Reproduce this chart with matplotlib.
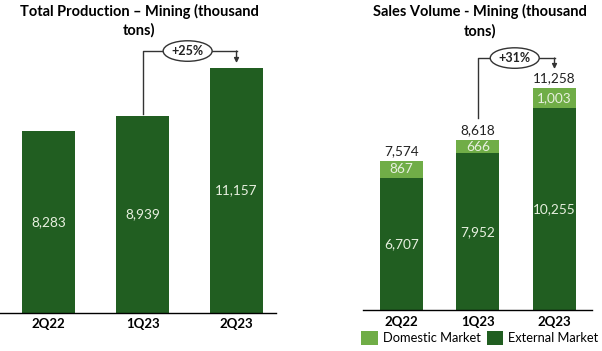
import matplotlib
matplotlib.use("Agg")
import matplotlib.pyplot as plt

plt.rcParams['font.family'] = ['Lato', 'DejaVu Sans']

# ---- data ----
quarters = ["2Q22", "1Q23", "2Q23"]
production = [8283, 8939, 11157]
external = [6707, 7952, 10255]
domestic = [867, 666, 1003]
sales_total = [7574, 8618, 11258]
prod_growth = "+25%"
sales_growth = "+31%"
title_left = "Total Production \u2013 Mining (thousand\ntons)"
title_right = "Sales Volume - Mining (thousand\ntons)"
legend_labels = ["Domestic Market", "External Market"]

DARK = "#215E21"
LIGHT = "#70AD47"
LABEL_C = "#E8F0E0"

W, H = 602, 351
fig = plt.figure(figsize=(W / 100, H / 100), dpi=100)

def ax_rect(x0, x1, ybot, ytop):
    return [x0 / W, (H - ybot) / H, (x1 - x0) / W, (ybot - ytop) / H]

x = list(range(len(quarters)))

# ---- left chart ----
axL = fig.add_axes(ax_rect(0, 276, 312.7, 40))
axL.bar(x, production, width=0.564, color=DARK)
axL.set_xlim(-0.516, 2.42)
axL.set_ylim(0, 272.7 / 0.02196)
for i, v in enumerate(production):
    axL.text(i, v / 2, f"{v:,}", ha="center", va="center", color=LABEL_C, fontsize=9.8)

# ---- right chart ----
axR = fig.add_axes(ax_rect(363, 592, 310, 40))
axR.bar(x, external, width=0.562, color=DARK, label=legend_labels[1])
axR.bar(x, domestic, bottom=external, width=0.562, color=LIGHT, label=legend_labels[0])
axR.set_xlim(-0.503, 2.49)
axR.set_ylim(0, 270 / 0.0197)
for i in x:
    axR.text(i, external[i] / 2, f"{external[i]:,}", ha="center", va="center",
             color=LABEL_C, fontsize=9.8)
    axR.text(i, external[i] + domestic[i] / 2, f"{domestic[i]:,}", ha="center",
             va="center", color=LABEL_C, fontsize=9.8)
    axR.text(i, sales_total[i] + 200, f"{sales_total[i]:,}", ha="center",
             va="bottom", color="#222222", fontsize=9.8)

for ax in (axL, axR):
    for s in ("top", "right", "left"):
        ax.spines[s].set_visible(False)
    ax.spines["bottom"].set_color("black")
    ax.spines["bottom"].set_linewidth(1.0)
    ax.set_yticks([])
    ax.set_xticks(x)
    ax.set_xticklabels(quarters, fontweight="bold", fontsize=9.5)
    ax.tick_params(axis="x", length=0, pad=4)
    ax.patch.set_alpha(0)

# ---- growth annotations ----
def growth(ax, start_y, level, tip_y, label, i0=1, i1=2):
    ax.plot([i0, i0, i1], [start_y, level, level], color="#333333", lw=1.0,
            clip_on=False, zorder=3)
    ax.annotate("", xy=(i1, tip_y), xytext=(i1, level),
                arrowprops=dict(arrowstyle="-|>", color="#333333", lw=1.0,
                                mutation_scale=7, shrinkA=0, shrinkB=0),
                annotation_clip=False, zorder=3)
    ax.text((i0 + i1) / 2 - 0.02, level, label, ha="center", va="center",
            fontsize=9, fontweight="bold", color="#222222", zorder=4,
            bbox=dict(boxstyle="ellipse,pad=0.1", fc="white", ec="#333333", lw=1.0),
            clip_on=False)

growth(axL, production[1] + 110, production[2] * 1.068, production[2] + 214, prod_growth)
growth(axR, sales_total[1] + 1128, sales_total[2] * 1.136, sales_total[2] + 976, sales_growth)

# ---- titles ----
fig.text(139 / W, 1 - 4 / H, title_left, ha="center", va="top", fontsize=10.5,
         fontweight="bold", linespacing=1.35)
fig.text(479.5 / W, 1 - 4 / H, title_right, ha="center", va="top", fontsize=10.5,
         fontweight="bold", linespacing=1.45)

# ---- legend ----
handles, labels = axR.get_legend_handles_labels()
fig.legend(handles[::-1], labels[::-1], loc="center", bbox_to_anchor=(480 / W, 1 - 338 / H),
           ncol=2, frameon=False, fontsize=9.3, handlelength=1.25, handleheight=1.25,
           handletextpad=0.4, columnspacing=0.5, borderpad=0)

fig.savefig("out.png", dpi=100)
